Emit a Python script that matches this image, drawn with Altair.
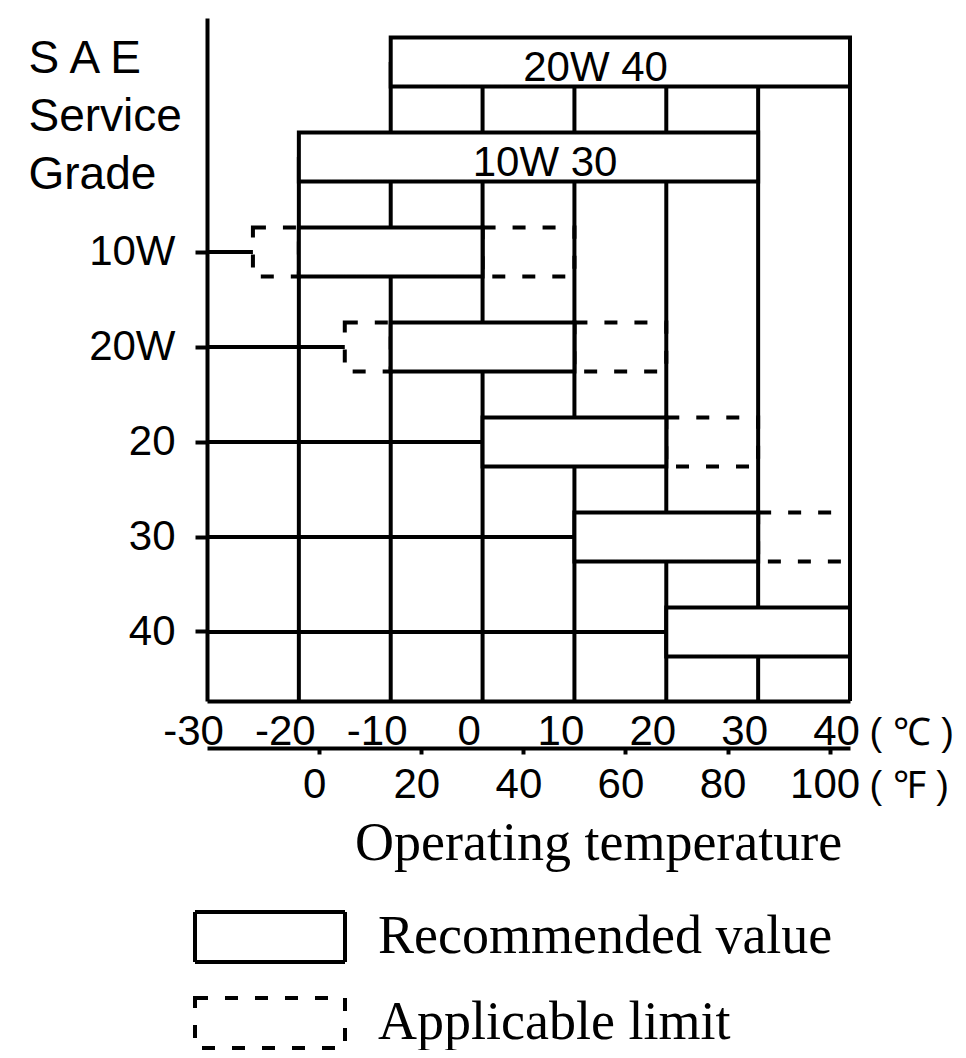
import altair as alt
import pandas as pd

# ---------------- data ----------------
ROWS = ["20W 40", "10W 30", "10W", "20W", "20", "30", "40"]      # top -> bottom
REC_START = [-10, -20, -20, -10, 0, 10, 20]                       # recommended range, degC
REC_END = [40, 30, 0, 10, 20, 30, 40]

LIMIT_ROWS = ["10W", "10W", "20W", "20W", "20", "30"]            # applicable limit extensions
LIMIT_START = [-25, 0, -15, 10, 20, 30]
LIMIT_END = [-20, 10, -10, 20, 30, 40]

MULTI_GRADES = ["20W 40", "10W 30"]
MULTI_LABEL_AT = [12.3, 6.8]                                      # degC where the name is written

SINGLE_GRADES = ["10W", "20W", "20", "30", "40"]

C_TICKS = [-30, -20, -10, 0, 10, 20, 30, 40]
F_TICKS = [0, 20, 40, 60, 80, 100]

KINDS = ["Recommended value", "Applicable limit"]

# ---------------- tables ----------------
rec_df = pd.DataFrame({"grade": ROWS, "start": REC_START, "end": REC_END, "kind": KINDS[0]})
lim_df = pd.DataFrame({"grade": LIMIT_ROWS, "start": LIMIT_START, "end": LIMIT_END, "kind": KINDS[1]})
lab_df = pd.DataFrame({"grade": MULTI_GRADES, "at": MULTI_LABEL_AT})

lead_rows = []
for g in SINGLE_GRADES:
    starts = [s for r, s in zip(ROWS, REC_START) if r == g] + \
             [s for r, s in zip(LIMIT_ROWS, LIMIT_START) if r == g]
    lead_rows.append({"grade": g, "x0": C_TICKS[0], "left": min(starts)})
lead_df = pd.DataFrame(lead_rows)

grid_rows = []
for v in C_TICKS[1:]:
    for r, s, e in zip(ROWS, REC_START, REC_END):
        if s <= v <= e:
            grid_rows.append({"v": v, "top": r})
            break
grid_df = pd.DataFrame(grid_rows)

f_df = pd.DataFrame({"F": F_TICKS})

# ---------------- scales / axes ----------------
SANS = "Liberation Sans"
SERIF = "Liberation Serif"

X_SCALE = alt.Scale(domain=[C_TICKS[0], C_TICKS[-1]], nice=False, zero=False)
F_SCALE = alt.Scale(domain=[C_TICKS[0] * 9 / 5 + 32, C_TICKS[-1] * 9 / 5 + 32], nice=False, zero=False)
Y_SCALE = alt.Scale(domain=ROWS, paddingInner=0.484, paddingOuter=0.337, align=0.305)

X_AXIS = alt.Axis(
    values=C_TICKS, grid=False, ticks=False, tickSize=0,
    labelExpr="'' + datum.value",
    labelFont=SANS, labelFontSize=42, labelColor="black", labelPadding=43,
    labelBaseline="alphabetic", labelOffset=-14, labelFlush=False, labelOverlap=False,
    domainColor="black", domainWidth=4,
    title="( ℃ )", titleX=662, titleY=43, titleAlign="left", titleBaseline="alphabetic",
    titleAngle=0, titleFont=SANS, titleFontSize=38, titleFontWeight="normal", titleColor="black",
)

F_AXIS = alt.Axis(
    orient="bottom", offset=47, values=F_TICKS, grid=False,
    ticks=True, tickSize=6, tickWidth=4, tickColor="black",
    labelFont=SANS, labelFontSize=42, labelColor="black", labelPadding=43,
    labelBaseline="alphabetic", labelOffset=-5, labelFlush=False, labelOverlap=False,
    domainColor="black", domainWidth=4,
    title="( ℉ )", titleX=662, titleY=49, titleAlign="left", titleBaseline="alphabetic",
    titleAngle=0, titleFont=SANS, titleFontSize=38, titleFontWeight="normal", titleColor="black",
)

Y_AXIS = alt.Axis(
    values=SINGLE_GRADES, grid=False,
    ticks=True, tickSize=12, tickWidth=4, tickColor="black",
    labelFont=SANS, labelFontSize=42, labelColor="black", labelPadding=20,
    domainColor="black", domainWidth=4,
    title=["S A E", "Service", "Grade"], titleAngle=0, titleAlign="left",
    titleBaseline="alphabetic", titleX=-179, titleY=54, titleLineHeight=58,
    titleFont=SANS, titleFontSize=46, titleFontWeight="normal", titleColor="black",
)

LEGEND = alt.Legend(
    title=None, orient="none", legendX=36, legendY=892, direction="vertical",
    symbolType="M-3,-1H3V1H-3Z", symbolSize=2500, symbolStrokeWidth=4,
    symbolStrokeColor="black", symbolFillColor="white", symbolOpacity=1,
    labelFont=SERIF, labelFontSize=54, labelColor="black", labelOffset=81,
    labelLimit=1000, rowPadding=20, padding=0,
)

DASH = alt.StrokeDash("kind:N", scale=alt.Scale(domain=KINDS, range=[[1, 0], [13, 17]]), legend=LEGEND)

# ---------------- layers ----------------
grid = alt.Chart(grid_df).mark_rule(color="black", strokeWidth=4).encode(
    x=alt.X("v:Q", scale=X_SCALE, axis=X_AXIS),
    y=alt.Y("top:N", scale=Y_SCALE, axis=Y_AXIS),
    y2=alt.value("height"),
)

leaders = alt.Chart(lead_df).mark_rule(color="black", strokeWidth=4).encode(
    x=alt.X("x0:Q", scale=X_SCALE, axis=X_AXIS),
    x2="left:Q",
    y=alt.Y("grade:N", scale=Y_SCALE, axis=Y_AXIS),
)

dashed = alt.Chart(lim_df).mark_bar(stroke="black", strokeWidth=4, fill="transparent").encode(
    x=alt.X("start:Q", scale=X_SCALE, axis=X_AXIS),
    x2="end:Q",
    y=alt.Y("grade:N", scale=Y_SCALE, axis=Y_AXIS),
    strokeDash=DASH,
)

solid = alt.Chart(rec_df).mark_bar(stroke="black", strokeWidth=4, fill="white").encode(
    x=alt.X("start:Q", scale=X_SCALE, axis=X_AXIS),
    x2="end:Q",
    y=alt.Y("grade:N", scale=Y_SCALE, axis=Y_AXIS),
    strokeDash=DASH,
)

labels = alt.Chart(lab_df).mark_text(
    font=SANS, fontSize=42, baseline="alphabetic", dy=19, color="black"
).encode(
    x=alt.X("at:Q", scale=X_SCALE, axis=X_AXIS),
    y=alt.Y("grade:N", scale=Y_SCALE, axis=Y_AXIS),
    text="grade:N",
)

f_layer = alt.Chart(f_df).mark_point(opacity=0).encode(
    x=alt.X("F:Q", scale=F_SCALE, axis=F_AXIS),
)

TITLE = alt.TitleParams(
    text="Operating temperature", orient="top", anchor="start", frame="group",
    offset=0, dx=148, dy=896, baseline="alphabetic",
    font=SERIF, fontSize=54, fontWeight="normal", color="black",
)

chart = (
    alt.layer(alt.layer(grid, leaders, dashed, solid, labels), f_layer)
    .resolve_scale(x="independent")
    .properties(
        width=643, height=683, title=TITLE,
        autosize=alt.AutoSizeParams(type="none"),
        padding={"left": 199, "top": 10, "right": 108, "bottom": 349},
    )
    .configure_view(strokeWidth=0)
)

chart.save("out.html", embed_options={"renderer": "svg", "actions": False})
